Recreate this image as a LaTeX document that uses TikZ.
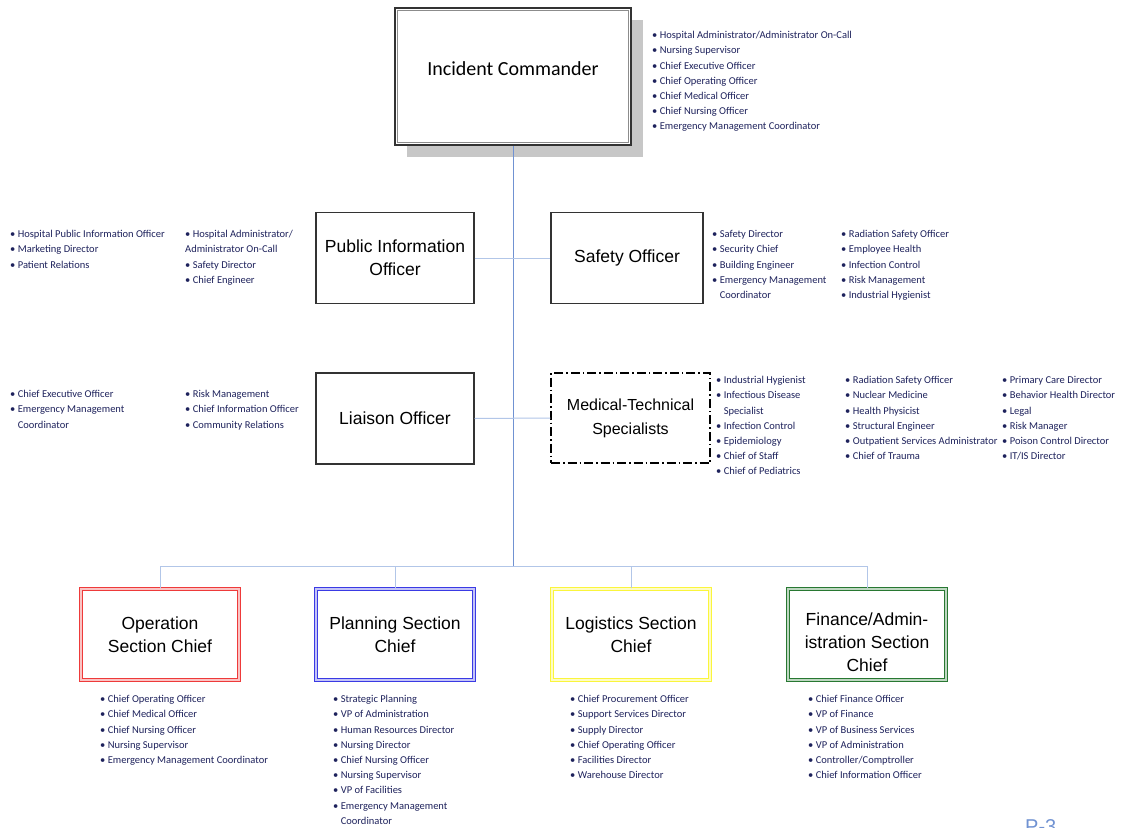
\documentclass[tikz,border=0pt]{standalone}
\usepackage{fontspec}
\setmainfont{Liberation Sans}
\newfontfamily\calibrifont{Carlito}
\usetikzlibrary{shadows}
\definecolor{ListBlue}{RGB}{30,34,92}
\definecolor{TrunkBlue}{RGB}{112,146,210}
\definecolor{LinkBlue}{RGB}{178,198,232}
\definecolor{SecRed}{RGB}{238,58,58}
\definecolor{SecBlue}{RGB}{58,58,228}
\definecolor{SecYellow}{RGB}{250,245,60}
\definecolor{SecGreen}{RGB}{40,120,50}
\tikzset{
  BoxStyle/.style={draw=black!80,line width=1.1pt,minimum width=158pt,minimum height=91pt,
    align=center,inner sep=0pt,font=\fontsize{17.5}{23}\selectfont},
  SectionStyle/.style={BoxStyle,draw=#1,double=#1!30,double distance=2pt,line width=1.1pt},
  ListStyle/.style={anchor=base west,align=left,inner sep=0pt,text=ListBlue,
    font=\calibrifont\fontsize{10.5}{15.2}\selectfont},
  LinkStyle/.style={LinkBlue,line width=1pt},
  TrunkStyle/.style={TrunkBlue,line width=1pt}
}
\begin{document}
\begin{tikzpicture}[x=1pt,y=-1pt]
\path[use as bounding box,fill=white] (0,0) rectangle (1126,827);

\node[BoxStyle,minimum width=236pt,minimum height=137pt,line width=1.6pt,fill=white,
  font=\calibrifont\fontsize{20}{24}\selectfont,
  drop shadow={shadow xshift=12pt,shadow yshift=-12pt,fill=black!22,opacity=1}]
  (IC) at (513,76.5) {\raisebox{16pt}{Incident Commander}};
\draw[black!45,line width=1pt] ([shift={(3.5pt,-3.5pt)}]IC.north west) rectangle ([shift={(-3.5pt,3.5pt)}]IC.south east);

\node[BoxStyle] (PIO) at (395,258) {Public Information\\Officer};
\node[BoxStyle,minimum width=152pt] (SO) at (627,258) {Safety Officer};
\node[BoxStyle] (LO) at (395,418.5) {Liaison Officer};
\node[BoxStyle,draw=black,line width=1.4pt,minimum width=159pt,minimum height=90pt,
  dash pattern=on 9pt off 3pt on 1.5pt off 3pt,font=\fontsize{16}{24}\selectfont]
  (MTS) at (630.5,418) {Medical-Technical\\Specialists};

\node[SectionStyle=SecRed] (OSC) at (160,634.5) {Operation\\Section Chief};
\node[SectionStyle=SecBlue] (PSC) at (395,634.5) {Planning Section\\Chief};
\node[SectionStyle=SecYellow] (LSC) at (631,634.5) {Logistics Section\\Chief};
\node[SectionStyle=SecGreen] (FSC) at (867,634.5)
  {\raisebox{-9pt}[\height][\depth]{\begin{tabular}{@{}c@{}}Finance/Admin-\\istration Section\\Chief\end{tabular}}};

\coordinate (Bus) at (513,566);
\draw[TrunkStyle] (IC.south) -- (Bus);
\draw[LinkStyle] (PIO.east) -- (SO.west);
\draw[LinkStyle] (LO.east) -- (MTS.west);
\draw[LinkStyle] (OSC.north) -- (OSC.north |- Bus) -- (FSC.north |- Bus) -- (FSC.north);
\draw[LinkStyle] (PSC.north) -- (PSC.north |- Bus);
\draw[LinkStyle] (LSC.north) -- (LSC.north |- Bus);

\node[ListStyle] (ICList) at (652,129.9) {\textbullet\ Hospital Administrator/Administrator On-Call\\
  \textbullet\ Nursing Supervisor\\ \textbullet\ Chief Executive Officer\\
  \textbullet\ Chief Operating Officer\\ \textbullet\ Chief Medical Officer\\
  \textbullet\ Chief Nursing Officer\\ \textbullet\ Emergency Management Coordinator};

\node[ListStyle] (PIOListA) at (10,268.1) {\textbullet\ Hospital Public Information Officer\\
  \textbullet\ Marketing Director\\ \textbullet\ Patient Relations};
\node[ListStyle] (PIOListB) at (185,283.3) {\textbullet\ Hospital Administrator/\\
  Administrator On-Call\\ \textbullet\ Safety Director\\ \textbullet\ Chief Engineer};

\node[ListStyle] (SOListA) at (712,298.5) {\textbullet\ Safety Director\\ \textbullet\ Security Chief\\
  \textbullet\ Building Engineer\\ \textbullet\ Emergency Management\\
  \phantom{\textbullet\ }Coordinator};
\node[ListStyle] (SOListB) at (841,298.5) {\textbullet\ Radiation Safety Officer\\
  \textbullet\ Employee Health\\ \textbullet\ Infection Control\\
  \textbullet\ Risk Management\\ \textbullet\ Industrial Hygienist};

\node[ListStyle] (LOListA) at (10,428.1) {\textbullet\ Chief Executive Officer\\
  \textbullet\ Emergency Management\\ \phantom{\textbullet\ }Coordinator};
\node[ListStyle] (LOListB) at (185,428.1) {\textbullet\ Risk Management\\
  \textbullet\ Chief Information Officer\\ \textbullet\ Community Relations};

\node[ListStyle] (MTSListA) at (716,474.9) {\textbullet\ Industrial Hygienist\\
  \textbullet\ Infectious Disease\\ \phantom{\textbullet\ }Specialist\\
  \textbullet\ Infection Control\\ \textbullet\ Epidemiology\\
  \textbullet\ Chief of Staff\\ \textbullet\ Chief of Pediatrics};
\node[ListStyle] (MTSListB) at (845,459.7) {\textbullet\ Radiation Safety Officer\\
  \textbullet\ Nuclear Medicine\\ \textbullet\ Health Physicist\\
  \textbullet\ Structural Engineer\\ \textbullet\ Outpatient Services Administrator\\
  \textbullet\ Chief of Trauma};
\node[ListStyle] (MTSListC) at (1002,459.7) {\textbullet\ Primary Care Director\\
  \textbullet\ Behavior Health Director\\ \textbullet\ Legal\\
  \textbullet\ Risk Manager\\ \textbullet\ Poison Control Director\\
  \textbullet\ IT/IS Director};

\node[ListStyle] (OSCList) at (100,763.5) {\textbullet\ Chief Operating Officer\\
  \textbullet\ Chief Medical Officer\\ \textbullet\ Chief Nursing Officer\\
  \textbullet\ Nursing Supervisor\\ \textbullet\ Emergency Management Coordinator};
\node[ListStyle] (PSCList) at (333,824.3) {\textbullet\ Strategic Planning\\
  \textbullet\ VP of Administration\\ \textbullet\ Human Resources Director\\
  \textbullet\ Nursing Director\\ \textbullet\ Chief Nursing Officer\\
  \textbullet\ Nursing Supervisor\\ \textbullet\ VP of Facilities\\
  \textbullet\ Emergency Management\\ \phantom{\textbullet\ }Coordinator};
\node[ListStyle] (LSCList) at (570,778.7) {\textbullet\ Chief Procurement Officer\\
  \textbullet\ Support Services Director\\ \textbullet\ Supply Director\\
  \textbullet\ Chief Operating Officer\\ \textbullet\ Facilities Director\\
  \textbullet\ Warehouse Director};
\node[ListStyle] (FSCList) at (808,778.7) {\textbullet\ Chief Finance Officer\\
  \textbullet\ VP of Finance\\ \textbullet\ VP of Business Services\\
  \textbullet\ VP of Administration\\ \textbullet\ Controller/Comptroller\\
  \textbullet\ Chief Information Officer};

\node[anchor=north west,inner sep=0pt,text=TrunkBlue,font=\fontsize{20}{24}\selectfont]
  (PageNo) at (1025,819) {P-3};
\end{tikzpicture}
\end{document}
